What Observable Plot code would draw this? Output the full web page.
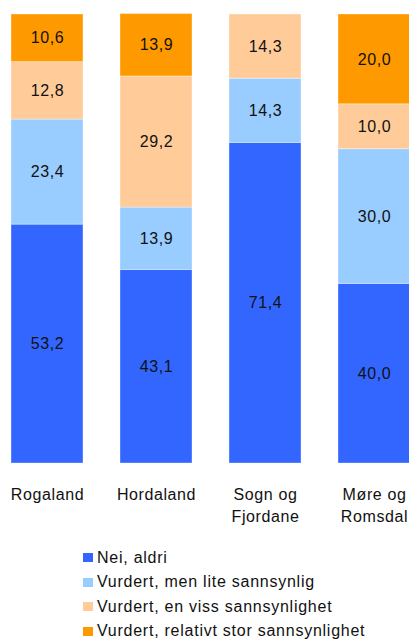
<!DOCTYPE html>
<html>
<head>
<meta charset="utf-8">
<script src="https://cdn.jsdelivr.net/npm/d3@7"></script>
<script src="https://cdn.jsdelivr.net/npm/@observablehq/plot@0.6"></script>
<style>
  html, body { margin: 0; padding: 0; background: #fff; }
  body { width: 409px; height: 639px; overflow: hidden; font-family: "Liberation Sans", Arial, sans-serif; }
  #legend { margin-top: 15.5px; padding-left: 83px; color: #111; font-size: 16px; letter-spacing: 0.75px; }
  #legend .row { height: 24.5px; display: flex; align-items: center; white-space: nowrap; }
  #legend .sw { width: 10px; height: 9px; margin-right: 4px; flex: none; }
</style>
</head>
<body>
<div id="chart"></div>
<div id="legend"></div>
<script>
const regions = ["Rogaland", "Hordaland", "Sogn og Fjordane", "Møre og Romsdal"];
const regionLabels = ["Rogaland", "Hordaland", "Sogn og\nFjordane", "Møre og\nRomsdal"];
const series = ["Nei, aldri", "Vurdert, men lite sannsynlig", "Vurdert, en viss sannsynlighet", "Vurdert, relativt stor sannsynlighet"];
const colors = ["#3366FF", "#99CCFF", "#FFCC99", "#FF9900"];
const neiAldri = [53.2, 43.1, 71.4, 40.0];
const liteSannsynlig = [23.4, 13.9, 14.3, 30.0];
const vissSannsynlighet = [12.8, 29.2, 14.3, 10.0];
const storSannsynlighet = [10.6, 13.9, 0, 20.0];

const seriesValues = [neiAldri, liteSannsynlig, vissSannsynlighet, storSannsynlighet];
const data = [];
series.forEach((s, si) => {
  regions.forEach((r, ri) => {
    data.push({region: r, series: s, value: seriesValues[si][ri]});
  });
});
const shown = data.filter(d => d.value > 0);
const fmt = v => v.toFixed(1).replace(".", ",");

const chart = Plot.plot({
  width: 409,
  height: 530,
  marginTop: 14,
  marginBottom: 67,
  marginLeft: 0,
  marginRight: 0,
  style: {fontFamily: "'Liberation Sans', Arial, sans-serif", fontSize: "16px", background: "#fff", overflow: "visible", letterSpacing: "0.6px"},
  x: {domain: regions, range: [11, 410.5], paddingInner: 0.335, paddingOuter: 0, axis: null},
  y: {domain: [0, 100], range: [463, 14], axis: null},
  color: {domain: series, range: colors},
  marks: [
    Plot.barY(shown, Plot.stackY({x: "region", y: "value", fill: "series", stroke: "#fff", strokeOpacity: 0.35, strokeWidth: 1})),
    Plot.text(shown, Plot.stackY({x: "region", y: "value", text: d => fmt(d.value), fill: "#111", fontSize: 16})),
    Plot.text(regions, {x: d => d, text: (d, i) => regionLabels[i], frameAnchor: "bottom", lineAnchor: "top", dy: 21, lineHeight: 1.36, fontSize: 16, fill: "#111"})
  ]
});
document.getElementById("chart").appendChild(chart);

const legend = document.getElementById("legend");
series.forEach((s, i) => {
  const row = document.createElement("div");
  row.className = "row";
  const sw = document.createElement("span");
  sw.className = "sw";
  sw.style.background = colors[i];
  const label = document.createElement("span");
  label.textContent = s;
  row.appendChild(sw);
  row.appendChild(label);
  legend.appendChild(row);
});
</script>
</body>
</html>
